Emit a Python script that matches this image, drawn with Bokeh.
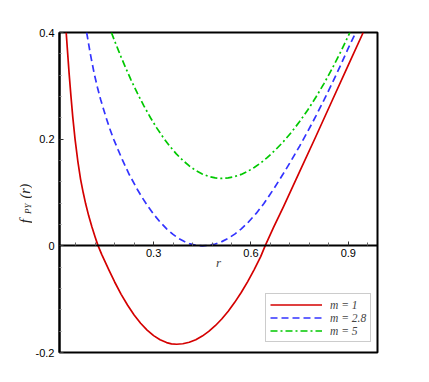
import math
from bokeh.plotting import figure
from bokeh.models import Range1d, FixedTicker
from bokeh.layouts import row
from bokeh.core.properties import value
from bokeh.embed import file_html
from bokeh.resources import INLINE

# ---- data ----
r_m1 = [0.0306, 0.035, 0.0398, 0.045, 0.051, 0.058, 0.0663, 0.075, 0.083, 0.0908, 0.10,
        0.11, 0.12, 0.1285, 0.14, 0.1632, 0.18, 0.20, 0.22, 0.24, 0.26, 0.28, 0.30, 0.32,
        0.34, 0.355, 0.371, 0.39, 0.41, 0.43, 0.45, 0.47, 0.49, 0.51, 0.53, 0.55, 0.57,
        0.59, 0.61, 0.63, 0.6437, 0.67, 0.70, 0.75, 0.80, 0.85, 0.90, 0.9459]
f_m1 = [0.400, 0.3622, 0.322, 0.2825, 0.2408, 0.1995, 0.1595, 0.1247, 0.0999, 0.0783, 0.0562,
        0.0352, 0.0162, 0.0009, -0.016, -0.0466, -0.0678, -0.0909, -0.1115, -0.1296, -0.1451,
        -0.158, -0.1684, -0.1762, -0.1814, -0.1837, -0.1845, -0.1836, -0.1808, -0.176, -0.1692,
        -0.1605, -0.1498, -0.1372, -0.1226, -0.106, -0.0875, -0.067, -0.0445, -0.0202, 0.0,
        0.035, 0.073, 0.139, 0.205, 0.272, 0.339, 0.400]

r_m28 = [0.0937, 0.105, 0.1173, 0.127, 0.1365, 0.145, 0.1531, 0.165, 0.178, 0.19, 0.2039,
         0.225, 0.25, 0.265, 0.2804, 0.30, 0.32, 0.341, 0.36, 0.3774, 0.395, 0.41, 0.43,
         0.45, 0.47, 0.49, 0.51, 0.53, 0.55, 0.5703, 0.59, 0.6162, 0.64, 0.672, 0.70,
         0.7233, 0.75, 0.7744, 0.80, 0.8253, 0.85, 0.8764, 0.90, 0.923]
f_m28 = [0.400, 0.360, 0.322, 0.2968, 0.275, 0.2576, 0.2414, 0.2194, 0.1983, 0.1809, 0.161,
         0.1337, 0.1056, 0.0904, 0.0759, 0.0594, 0.0446, 0.0314, 0.0214, 0.0139, 0.008,
         0.0042, 0.0011, 0.0, 0.0009, 0.0035, 0.0079, 0.0141, 0.022, 0.0318, 0.0431, 0.0608,
         0.0794, 0.1084, 0.1356, 0.159, 0.187, 0.2138, 0.2432, 0.2736, 0.3045, 0.3388,
         0.3707, 0.400]

r_m5 = [0.170, 0.18, 0.19, 0.20, 0.215, 0.23, 0.25, 0.27, 0.29, 0.31, 0.33, 0.35, 0.37,
        0.39, 0.41, 0.43, 0.45, 0.47, 0.49, 0.509, 0.53, 0.55, 0.57, 0.59, 0.61, 0.63,
        0.65, 0.6774, 0.70, 0.725, 0.75, 0.775, 0.80, 0.825, 0.85, 0.8775, 0.905]
f_m5 = [0.3999, 0.384, 0.3688, 0.3538, 0.3321, 0.3117, 0.2862, 0.2624, 0.2407, 0.2207,
        0.2027, 0.1867, 0.1724, 0.1603, 0.1498, 0.1413, 0.1348, 0.1301, 0.1274, 0.1265,
        0.1274, 0.1299, 0.1339, 0.1396, 0.1469, 0.1553, 0.1653, 0.181, 0.1954, 0.2132,
        0.233, 0.2547, 0.2785, 0.3042, 0.332, 0.3648, 0.400]

series_labels = ["m = 1", "m = 2.8", "m = 5"]
y_title_parts = ["f", "PY", "(r)"]

x_ticks = [0.3, 0.6, 0.9]
x_minor = [0.06, 0.12, 0.18, 0.24, 0.36, 0.42, 0.48, 0.54, 0.66, 0.72, 0.78, 0.84, 0.96]
y_ticks = [-0.2, 0, 0.2, 0.4]
y_tick_labels = ["-0.2", "0", "0.2", "0.4"]
y_minor = [-0.16, -0.12, -0.08, -0.04, 0.04, 0.08, 0.12, 0.16, 0.24, 0.28, 0.32, 0.36]

RED = "#d40000"
BLUE = "#3333ff"
GREEN = "#00c800"

TITLE_W = 32
TOTAL_W = 421
TOTAL_H = 374

# ---- narrow strip holding the rotated y-axis title ----
lf = figure(width=TITLE_W, height=TOTAL_H, output_backend="svg", toolbar_location=None,
            x_range=Range1d(0, TITLE_W), y_range=Range1d(0, TOTAL_H),
            x_axis_location=None, y_axis_location=None,
            min_border_left=0, min_border_right=0, min_border_top=0, min_border_bottom=0)
lf.outline_line_color = None
lf.xgrid.grid_line_color = None
lf.ygrid.grid_line_color = None
lf.background_fill_color = "white"
lf.border_fill_color = "white"

title_style = dict(angle=math.pi / 2, text_font=value("Liberation Serif"),
                   text_font_style="italic", text_color="#222222",
                   text_align="left", text_baseline="alphabetic")
lf.text(x=[24.5], y=[151], text=[y_title_parts[0]], text_font_size="15px", **title_style)
lf.text(x=[27], y=[162], text=[y_title_parts[1]], text_font_size="9px", **title_style)
lf.text(x=[24.5], y=[180], text=[y_title_parts[2]], text_font_size="14px", **title_style)

# ---- main plot ----
p = figure(width=TOTAL_W - TITLE_W, height=TOTAL_H, output_backend="svg", toolbar_location=None,
           x_range=Range1d(0.01, 0.99), y_range=Range1d(-0.2, 0.4),
           min_border_left=57 - TITLE_W, min_border_right=44, min_border_top=32,
           min_border_bottom=22)

p.xgrid.grid_line_color = None
p.ygrid.grid_line_color = None
p.outline_line_color = "black"
p.outline_line_width = 2
p.background_fill_color = "white"
p.border_fill_color = "white"

xa = p.xaxis[0]
xa.fixed_location = 0
xa.ticker = FixedTicker(ticks=x_ticks, minor_ticks=x_minor)
xa.axis_line_color = "black"
xa.axis_line_width = 1.8
xa.major_tick_in = 4
xa.major_tick_out = 0
xa.minor_tick_in = 3
xa.minor_tick_out = 0
xa.major_tick_line_color = "#333333"
xa.minor_tick_line_color = "#666666"
xa.major_label_standoff = 3
xa.major_label_text_font = "Liberation Sans"
xa.major_label_text_font_size = "11px"
xa.major_label_text_color = "black"
xa.axis_label = "r"
xa.axis_label_text_font = "Liberation Serif"
xa.axis_label_text_font_style = "italic"
xa.axis_label_text_font_size = "13px"
xa.axis_label_standoff = -5

ya = p.yaxis[0]
ya.ticker = FixedTicker(ticks=y_ticks, minor_ticks=y_minor)
ya.major_label_overrides = {t: s for t, s in zip(y_ticks, y_tick_labels)}
ya.axis_line_color = "black"
ya.axis_line_width = 2
ya.major_tick_in = 4
ya.major_tick_out = 0
ya.minor_tick_in = 2
ya.minor_tick_out = 0
ya.major_tick_line_color = "#333333"
ya.minor_tick_line_color = "#888888"
ya.major_label_standoff = 5
ya.major_label_text_font = "Liberation Sans"
ya.major_label_text_font_size = "11px"
ya.major_label_text_color = "black"

p.line(r_m1, f_m1, line_color=RED, line_width=1.7, line_join="round",
       legend_label=series_labels[0])
p.line(r_m28, f_m28, line_color=BLUE, line_width=1.7, line_dash="7 4",
       legend_label=series_labels[1])
p.line(r_m5, f_m5, line_color=GREEN, line_width=1.7, line_dash="7 3 2 3",
       legend_label=series_labels[2])

lg = p.legend[0]
lg.location = (206, 10)
lg.margin = 0
lg.padding = 4
lg.spacing = 0
lg.glyph_width = 52
lg.glyph_height = 13
lg.label_height = 13
lg.label_standoff = 8
lg.label_text_font = "Liberation Serif"
lg.label_text_font_style = "italic"
lg.label_text_font_size = "11.5px"
lg.border_line_color = "#999999"
lg.border_line_width = 1.5
lg.background_fill_alpha = 1

layout = row(lf, p, spacing=0)
open("out.html", "w").write(file_html(layout, INLINE))
